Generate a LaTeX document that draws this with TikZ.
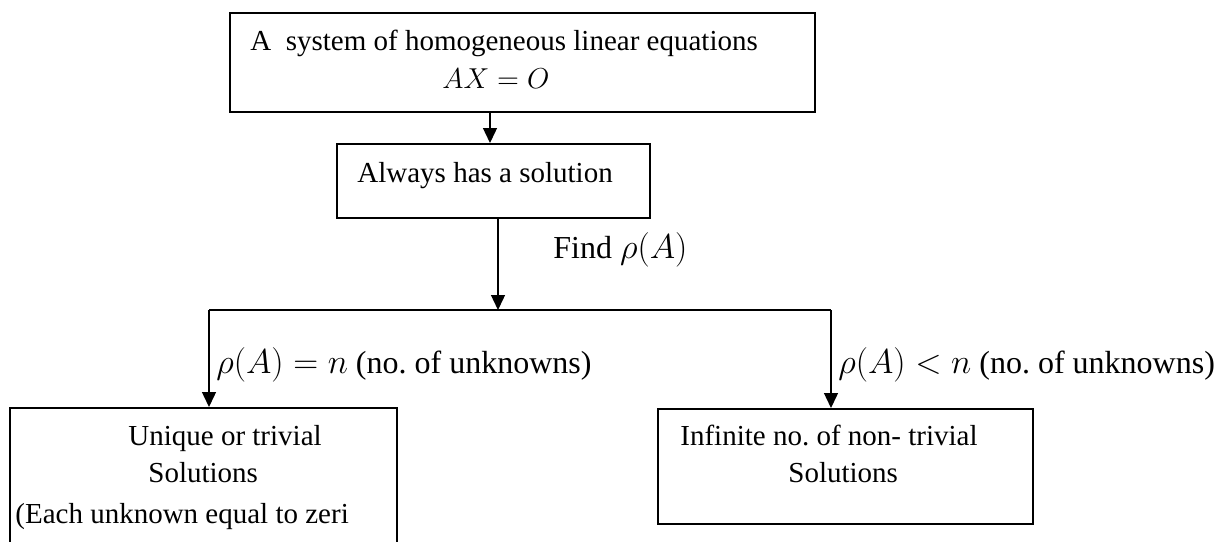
\documentclass[tikz,border=0pt]{standalone}
\usepackage{amsmath}
\usepackage{fontspec}
\setmainfont{Liberation Serif}
\usepackage{tikz}
\usetikzlibrary{arrows.meta}
\frenchspacing

\begin{document}
\begin{tikzpicture}[
				      x=0.5pt, y=-0.5pt,
				      font=\fontsize{14.5pt}{19pt}\selectfont,
				      box/.style = {shape=rectangle, draw, line width=0.8pt,
						      inner sep=0pt, anchor=north west},
				      txt/.style = {inner sep=0pt, anchor=base west},
				      lbl/.style = {txt, font=\fontsize{16pt}{20pt}\selectfont},
				      arr/.style = {-{Triangle[length=7.5pt,width=7pt]}, line width=0.7pt}
			      ]
			      \path[use as bounding box, clip] (0,0) rectangle (1214,541);

			      % boxes
			      \node[box, minimum width=292.5pt, minimum height=49.5pt] (sys) at (229,12) {};
			      \node[box, minimum width=156.5pt, minimum height=37pt] (sol) at (336,143) {};
			      \node[box, minimum width=193.5pt, minimum height=80pt] (uniq) at (9,407) {};
			      \node[box, minimum width=187.5pt, minimum height=57.5pt] (inf) at (657,408) {};

			      % texts
			      \node[txt] (sys-a) at (250,50) {A~ system of homogeneous linear equations};
			      \node[txt, font=\fontsize{13.5pt}{17pt}\selectfont] (sys-b) at (442,88) {$AX = O$};
			      \node[txt] (sol-a) at (357,182) {Always has a solution};
			      \node[lbl] (find) at (553,258) {Find $\rho(A)$};
			      \node[lbl] (eq-lbl) at (216,373) {$\rho(A) = n$ (no. of unknowns)};
			      \node[lbl] (lt-lbl) at (838,373) {$\rho(A) < n$ (no. of unknowns)};
			      \node[txt] (uniq-a) at (128,445) {Unique or trivial};
			      \node[txt] (uniq-b) at (148,482) {Solutions};
			      \node[txt] (uniq-c) at (15,523) {(Each unknown equal to zeri};
			      \node[txt] (inf-a) at (680,445) {Infinite no. of non- trivial};
			      \node[txt] (inf-b) at (788,482) {Solutions};

			      % connectors
			      \coordinate (split) at (498,310);
			      \coordinate (left) at (209,310);
			      \coordinate (right) at (831,310);
			      \draw[arr] (sys.south -| 490,0) -- (sol.north -| 490,0);
			      \draw[arr] (sol.south -| split) -- (split);
			      \draw[line width=0.7pt] (left) -- (right);
			      \draw[arr] (left) -- (left |- uniq.north);
			      \draw[arr] (right) -- (right |- inf.north);
		      \end{tikzpicture}
\end{document}
